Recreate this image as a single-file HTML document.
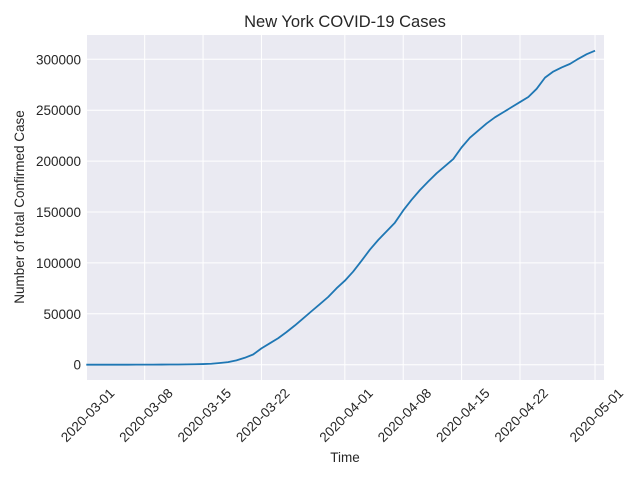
<!DOCTYPE html>
<html><head><meta charset="utf-8"><style>
body{margin:0;background:#fff}
svg{display:block;font-family:"Liberation Sans",Arial,sans-serif}
</style></head><body>
<svg id="chart" width="640" height="480" xmlns="http://www.w3.org/2000/svg">
<rect x="0" y="0" width="640" height="480" fill="#fff"/>
<rect x="87" y="35" width="517" height="345" fill="#eaeaf2"/>
<g id="grid"></g>
<g id="series"></g>
<g id="xticks"></g>
<g id="yticks"></g>
<text x="345" y="27" text-anchor="middle" font-size="16.5" fill="#262626">New York COVID-19 Cases</text>
<text x="345" y="462" text-anchor="middle" font-size="13.5" fill="#262626">Time</text>
<text transform="translate(24,207) rotate(-90)" text-anchor="middle" font-size="13.5" fill="#262626">Number of total Confirmed Case</text>
</svg>
<script>
const cases = [0,0,1,2,11,22,44,89,106,142,173,217,326,421,
613,950,1700,2500,4200,6800,10000,16000,21000,26000,32000,38500,45500,52500,59500,66500,75000,
82500,91500,102000,113000,122500,131000,139500,151500,162000,171500,180000,188000,195000,202000,213500,223000,230000,237000,243000,248000,253000,258000,263000,271000,282000,288000,292000,295500,300500,305000,
308500];
const xTickDays = [0,7,14,21,31,38,45,52,61];
const xTickLabels = ["2020-03-01","2020-03-08","2020-03-15","2020-03-22","2020-04-01","2020-04-08","2020-04-15","2020-04-22","2020-05-01"];
const yTicks = [0,50000,100000,150000,200000,250000,300000];

const NS="http://www.w3.org/2000/svg";
const X0=86.3, PXD=8.34;
const xs=d=>X0+d*PXD;
const Y0=364.7, PXV=101.8/100000;
const ys=v=>Y0-v*PXV;
const grid=document.getElementById('grid');
const xt=document.getElementById('xticks');
const yt=document.getElementById('yticks');
function mk(t,a){const e=document.createElementNS(NS,t);for(const k in a)e.setAttribute(k,a[k]);return e;}
xTickDays.forEach((d,i)=>{
  const x=xs(d);
  const l=mk('line',{x1:x,x2:x,y1:35,y2:380,stroke:'#fff','stroke-width':1});
  
  
  grid.appendChild(l);
  const t=mk('text',{transform:`translate(${x+29},${394}) rotate(-45)`,'text-anchor':'end','font-size':13.5,fill:'#262626'});
  t.textContent=xTickLabels[i];
  
  
  xt.appendChild(t);
});
yTicks.forEach(v=>{
  const y=ys(v);
  const l=mk('line',{x1:87,x2:604,y1:y,y2:y,stroke:'#fff','stroke-width':1});
  
  
  grid.appendChild(l);
  const t=mk('text',{x:81,y:y+5,'text-anchor':'end','font-size':13.5,fill:'#262626'});
  t.textContent=String(v);
  
  
  yt.appendChild(t);
});
const pts=cases.map((v,i)=>xs(i).toFixed(2)+','+ys(v).toFixed(2)).join(' ');
const pl=mk('polyline',{points:pts,fill:'none',stroke:'#1f77b4','stroke-width':1.8,'stroke-linejoin':'round'});


document.getElementById('series').appendChild(pl);
</script>
</body></html>
